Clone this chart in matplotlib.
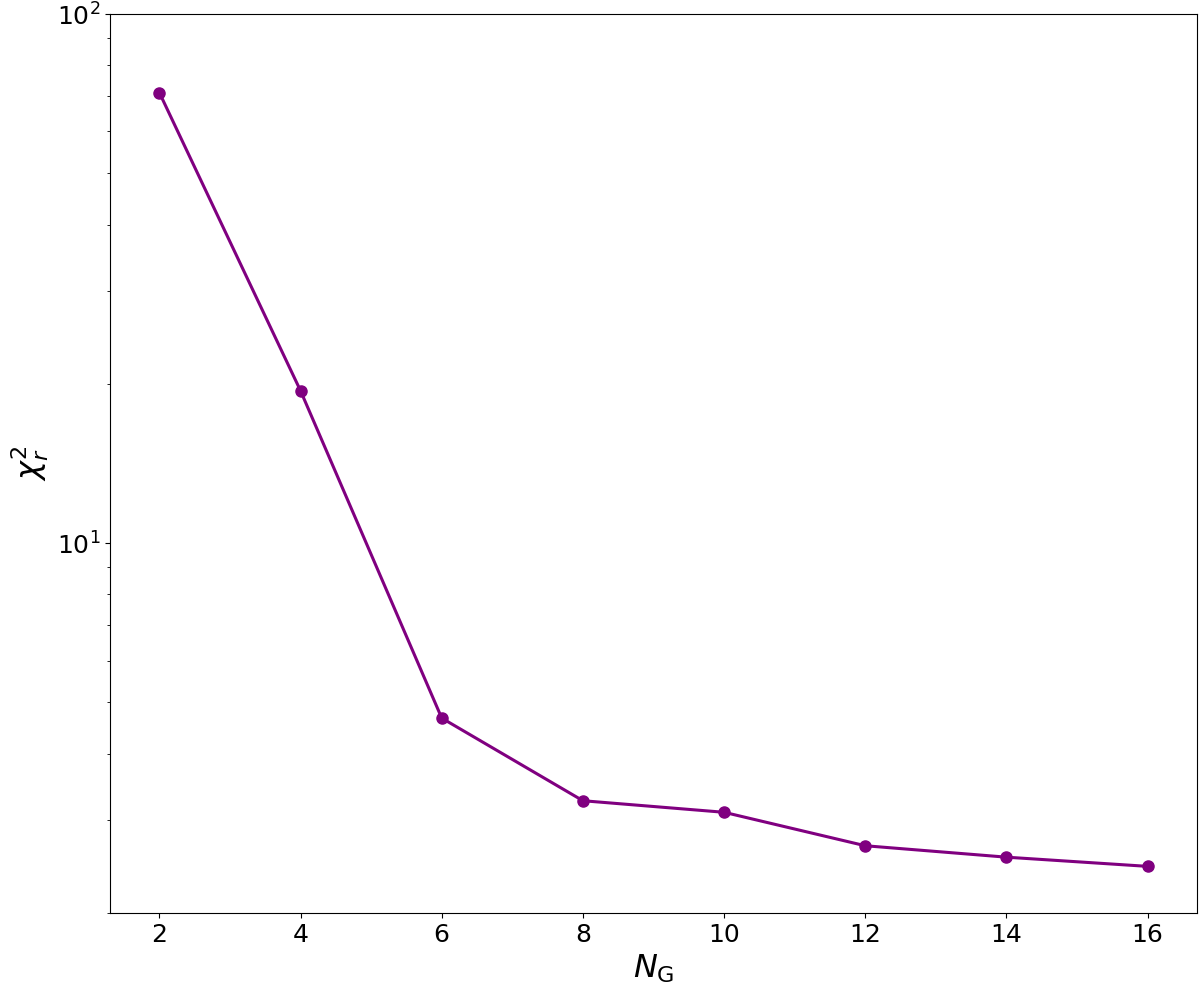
import matplotlib
matplotlib.use("Agg")
import matplotlib.pyplot as plt

n_g = [2, 4, 6, 8, 10, 12, 14, 16]
chi2_r = [71.0, 19.4, 4.67, 3.26, 3.10, 2.68, 2.55, 2.45]

fig = plt.figure(figsize=(12, 9.93), dpi=100)
ax = fig.add_axes([110/1200, 1 - 913/993, (1197-110)/1200, (913-14)/993])
ax.plot(n_g, chi2_r, color='purple', marker='o', linewidth=2.2, markersize=8)
ax.set_yscale('log')
ax.set_ylim(2, 100)
ax.set_xticks([2, 4, 6, 8, 10, 12, 14, 16])
ax.tick_params(labelsize=18)
ax.set_xlabel(r'$N_{\mathrm{G}}$', fontsize=23)
ax.set_ylabel(r'$\chi^2_r$', fontsize=23)
fig.savefig('out.png', dpi=100)
